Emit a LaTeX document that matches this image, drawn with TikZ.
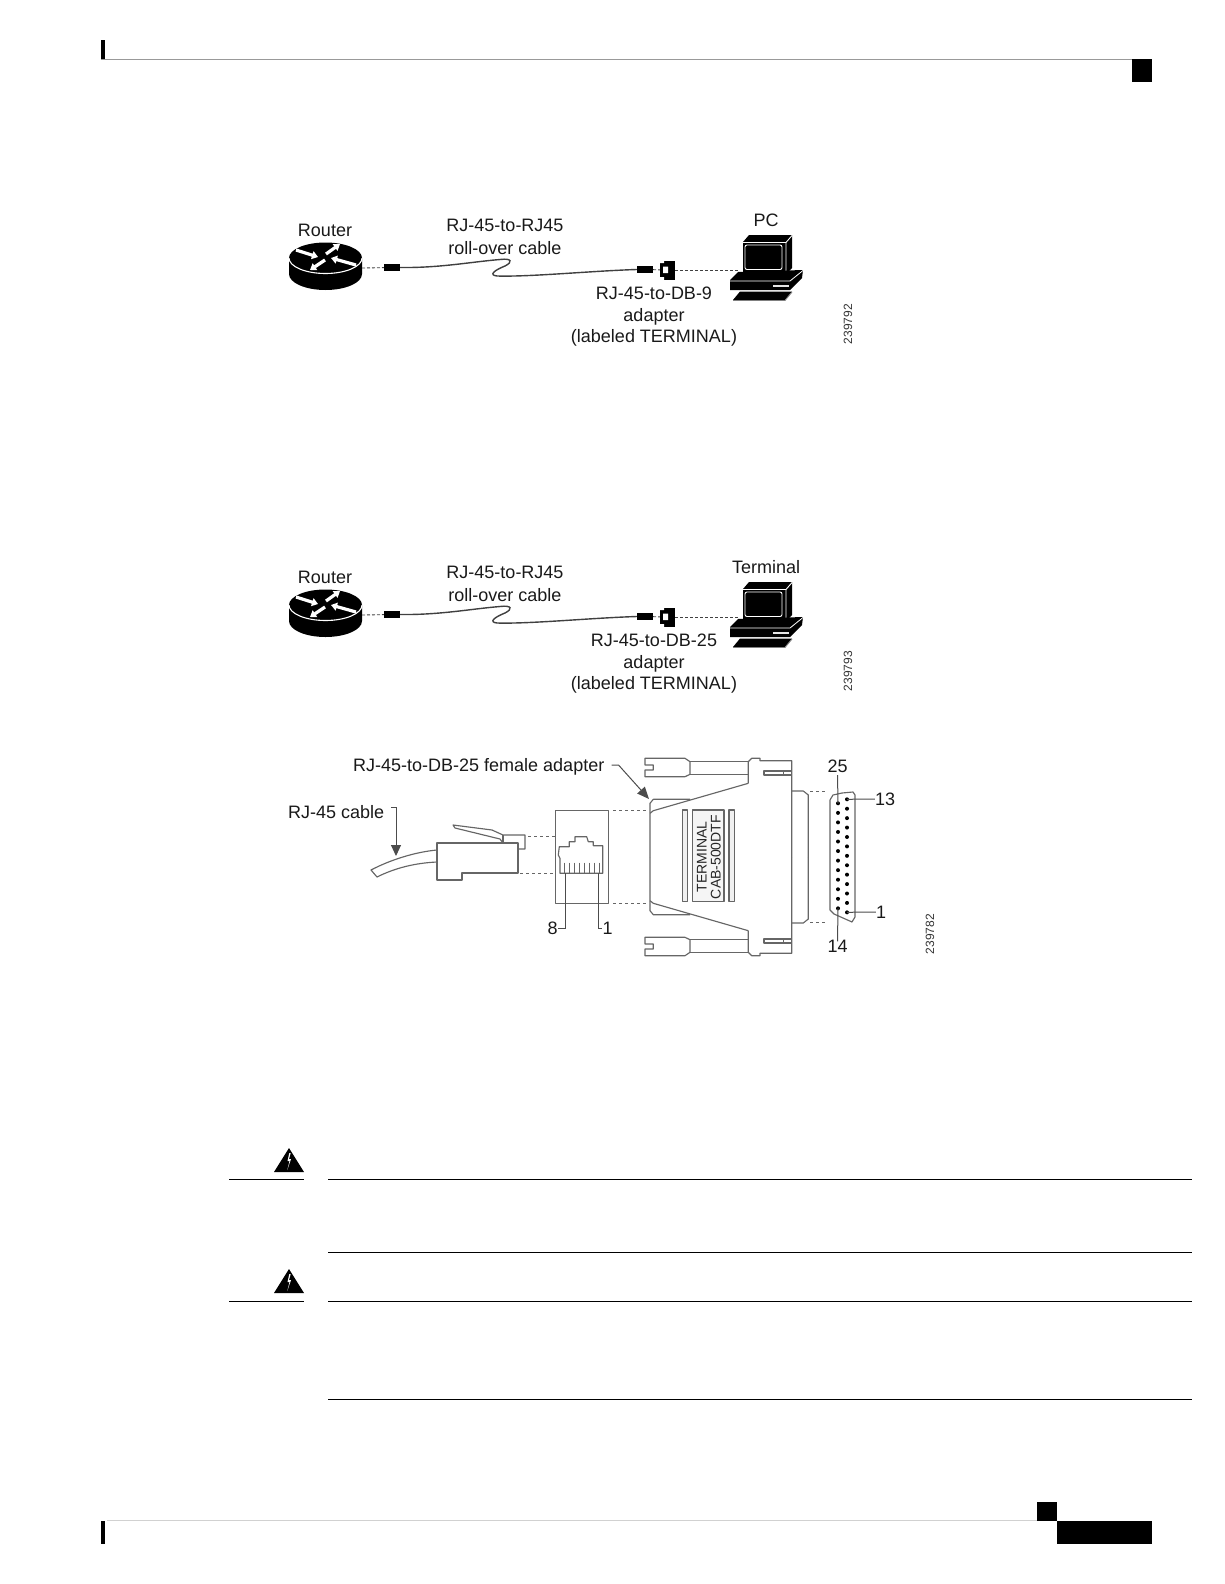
\documentclass[tikz,border=0pt]{standalone}
\usepackage{fontspec}
\setmainfont{Liberation Sans}
\usetikzlibrary{arrows.meta}

\begin{document}
\begin{tikzpicture}[x=1pt,y=-1pt,
    lbl/.style={inner sep=0pt, text height=13pt, text depth=0pt, text=black!90, font=\fontsize{18}{20}\selectfont},
    code/.style={inner sep=0pt, rotate=90, text=black!80, font=\fontsize{12}{14}\selectfont},
    plate/.style={inner sep=0pt, rotate=90, text=black!85, font=\fontsize{14}{16}\selectfont},
    plug/.style={fill=black, inner sep=0pt, minimum width=16pt, minimum height=7pt},
    link/.style={densely dashed, black!75, line width=0.9pt},
    part/.style={black!60, line width=1.15pt, line join=round},
    guide/.style={dashed, black!60, line width=0.9pt},
    lead/.style={black!70, line width=1pt},
    flash/.style={white, line width=3.2pt, -{Triangle[length=6pt,width=8pt]}},
    rule/.style={black, line width=0.9pt}]
  \useasboundingbox (0,0) rectangle (1224,1584);

  % page marks
  \fill (101,40) rectangle (105,59);
  \draw[black!40,line width=1.1pt] (101,59.5) -- (1132,59.5);
  \fill (1132,59) rectangle (1152,82);
  \fill (101,1521) rectangle (105,1544);
  \draw[black!18,line width=1.4pt] (107,1520.5) -- (1037,1520.5);
  \fill (1037,1502) rectangle (1057,1521);
  \fill (1057,1521) rectangle (1152,1544);

  % the two cabling figures
  \foreach \dy/\n/\host/\adp/\num in {0/1/PC/RJ-45-to-DB-9/239792,347/2/Terminal/RJ-45-to-DB-25/239793} {
    \begin{scope}[shift={(0,\dy)}]
      \node[lbl] (routerlbl\n) at (325,230) {Router};
      \node[lbl] (cablelbl\n) at (505,225) {RJ-45-to-RJ45};
      \node[lbl] (rolllbl\n) at (505,248) {roll-over cable};
      \node[lbl] (hostlbl\n) at (766,220) {\host};
      \node[lbl] (adplbl\n) at (654,293) {\adp};
      \node[lbl] (adplblb\n) at (654,315) {adapter};
      \node[lbl] (adplblc\n) at (654,336) {(labeled TERMINAL)};
      \node[code] (code\n) at (848,324) {\num};

      % router
      \fill (289,258) -- (289,274) arc[start angle=180,end angle=0,x radius=36.5,y radius=16]
        -- (362,258) arc[start angle=0,end angle=-180,x radius=36.5,y radius=15.5] -- cycle;
      \draw[white,line width=1.1pt] (289,258) arc[start angle=180,end angle=0,x radius=36.5,y radius=15.5];
      \draw[flash] (296,250) -- (318,257);
      \draw[flash] (326,254) -- (340,244);
      \draw[flash] (325,260) -- (310,270);
      \draw[flash] (356,265) -- (331,258);

      % cable
      \coordinate (routerport\n) at (362,268);
      \node[plug] (plugl\n) at (392,267.5) {};
      \node[plug] (plugr\n) at (645,269.5) {};
      \node[fill=black, inner sep=0pt, minimum width=15pt, minimum height=19pt] (adapter\n) at (667.5,270) {};
      \fill[white] (663,266.5) rectangle (668,273) (660,260) rectangle (664,263) (660,277) rectangle (664,280);
      \coordinate (hostport\n) at (738,270);
      \draw[link] (routerport\n) -- (plugl\n);
      \draw[link] (plugr\n) -- (adapter\n);
      \draw[link] (adapter\n) -- (hostport\n);
      \draw[black!75,line width=1.4pt] (plugl\n.east) .. controls (440,268) and (470,262) .. (500,259.5)
        .. controls (512,258) and (513,262) .. (505,266) .. controls (495,270) and (488,275) .. (497,276)
        .. controls (530,277) and (590,271) .. (plugr\n.west);

      % computer
      \fill[line join=round] (743,242) -- (749,235) -- (792,235) -- (792,268) -- (787,273) -- (743,273) -- cycle;
      \draw[white,line width=0.9pt] (743,242.5) -- (786,242.5) -- (792,235.5) (786,242.5) -- (786,272);
      \draw[white,line width=0.9pt,rounded corners=2pt] (745,245) rectangle (782,269.5);
      \fill (730,280) -- (738,272) -- (803,270) -- (802,278) -- (790,290) -- (730,290) -- cycle;
      \draw[white,line width=0.8pt] (730,281) -- (790,281) -- (803,270.5);
      \draw[black!10,line width=1.2pt] (773,286) -- (789,286);
      \fill (740,291.5) -- (792,291.5) -- (785,300) -- (733,300) -- cycle;
      \draw[black!50,line width=0.9pt] (733,300.5) -- (785,300.5) -- (792,292);
    \end{scope}
  }

  % adapter figure, labels
  \node[lbl,anchor=west] (adapterlbl) at (353,765) {RJ-45-to-DB-25 female adapter};
  \node[lbl,anchor=west] (rjcablelbl) at (288,812) {RJ-45 cable};
  \node[lbl] (pin8) at (552.7,928) {8};
  \node[lbl] (pin1) at (607.5,928) {1};
  \node[lbl] (pin25) at (837.5,766) {25};
  \node[lbl] (pin13) at (885,799) {13};
  \node[lbl] (pinb1) at (881,912) {1};
  \node[lbl] (pin14) at (837.5,946) {14};
  \node[code] (code3) at (930,934) {239782};

  % cable and plug
  \draw[part] (437,850) .. controls (415,852) and (390,860) .. (371,870) -- (377,877)
    .. controls (395,868) and (415,863) .. (437,862);
  \draw[part] (437,843) -- (518,843) -- (518,873) -- (462,873) -- (462,880) -- (437,880) -- cycle;
  \draw[part] (503,843) -- (500,839) -- (455,828) -- (453,825) -- (492,830) -- (503,835) -- (525,835) -- (525,849) -- (518,849);
  \draw[part] (503,835) -- (503,843);
  \coordinate (cabletip) at (396,856);
  \draw[lead,-{Triangle[length=11pt,width=10pt]}] ([xshift=7pt,yshift=5pt]rjcablelbl.east) -| (cabletip);

  % jack
  \draw[part] (555.5,810.5) rectangle (608.5,903.5);
  \draw[part] (560,873.3) -- (560,858.3) -- (558.3,855) -- (559.3,846.7) -- (569.3,846.7) -- (569.3,841.7) -- (575,841.7)
    -- (575,836.7) -- (586.7,836.7) -- (588.3,841.7) -- (593.3,841.7) -- (593.3,845.7) -- (602.7,845.7) -- (602.7,873.3) -- cycle;
  \foreach \i in {0,...,7}
    \draw[part,line width=1pt] (564+\i*5,862.7) -- (564+\i*5,873.3);
  \draw[lead] (565,873) |- (pin8.east);
  \draw[lead] (598.3,873) |- (pin1.west);

  % guide lines between the parts
  \draw[guide] (528,836) -- (555,836);
  \draw[guide] (520,873) -- (555,873);
  \draw[guide] (613,810) -- (648,810);
  \draw[guide] (613,903) -- (648,903);
  \draw[guide] (810,791) -- (827,791);
  \draw[guide] (810,922) -- (825,922);

  % adapter shell, one half mirrored on the other
  \foreach \s in {1,-1} {
    \begin{scope}[shift={(0,857)},yscale=\s]
      \draw[part] (645,-98.7) -- (685,-98.7) -- (690,-95.3) -- (690,-82.7) -- (685,-80.3) -- (645,-80.3) -- (645,-87)
        -- (653.3,-87) -- (653.3,-92) -- (645,-92) -- cycle;
      \draw[part] (690,-95.3) -- (748.3,-95.3) (690,-82.7) -- (748.3,-82.7);
      \draw[part] (748.3,-73.7) -- (748.3,-95.3) -- (751.7,-98.7) -- (760,-98.7) -- (760,-96.3) -- (791.7,-96.3)
        -- (791.7,0);
      \draw[part] (791.7,-82) -- (764,-82) -- (764,-86) -- (791.7,-86) (783.3,-86) -- (783.3,-82);
      \draw[part] (650,0) -- (650,-53.7) -- (653.3,-57.7) -- (690,-57.7);
      \draw[part] (650,-43.7) -- (653.3,-46.3) -- (748.3,-73.7);
      \draw[part] (791.7,-66) -- (803.3,-66) -- (808.3,-62) -- (808.3,0);
    \end{scope}
  }
  \draw[part,fill=black!6] (682.3,810) rectangle (687.7,901.7);
  \draw[part,fill=black!4] (692.7,810) rectangle (724,901.7);
  \draw[part,fill=black!6] (729,810) rectangle (734.3,901.7);
  \node[plate] (termlbl) at (701.7,857) {TERMINAL};
  \node[plate] (cablbl) at (715.7,857) {CAB-500DTF};
  \coordinate (shelltip) at (649,799);
  \draw[lead,-{Triangle[length=12pt,width=10pt]}] ([xshift=7pt]adapterlbl.east) -- ++(7,0) -- (shelltip);

  % DB-25 face
  \draw[part] (830,800) -- (833,795) -- (842,793) -- (853,792) -- (855,795) -- (855,917) -- (852,922) -- (834,914) -- (830,910) -- cycle;
  \foreach \i in {0,...,12}
    \fill (847,799.3+\i*9.42) circle[radius=2];
  \foreach \i in {0,...,11}
    \fill (838,803.3+\i*9.55) circle[radius=2];
  \coordinate (pinc25) at (838,803.3);
  \coordinate (pinc13) at (847,799.3);
  \coordinate (pinc1) at (847,912.3);
  \coordinate (pinc14) at (838,908.3);
  \draw[lead] (pin25) ++(0,9) -- (pinc25);
  \draw[lead] (pinc13) -- (pin13.west);
  \draw[lead] (pinc1) -- (pinb1.west);
  \draw[lead] (pinc14) -- ([yshift=-2pt]pin14.north);

  % warnings
  \foreach \ty/\la/\lb in {0/1179/1252,121/1301/1399} {
    \fill (289,1148+\ty) -- (304,1172+\ty) -- (274,1172+\ty) -- cycle;
    \fill[white] (289.3,1153+\ty) -- (287.5,1161+\ty) -- (289.5,1161+\ty) -- (287.3,1170+\ty) -- (291,1159+\ty) -- (289,1159+\ty) -- (290.7,1153+\ty) -- cycle;
    \draw[rule] (229,\la) -- (304,\la);
    \draw[rule] (328,\la) -- (1192,\la);
    \draw[rule] (328,\lb) -- (1192,\lb);
  }
\end{tikzpicture}
\end{document}
